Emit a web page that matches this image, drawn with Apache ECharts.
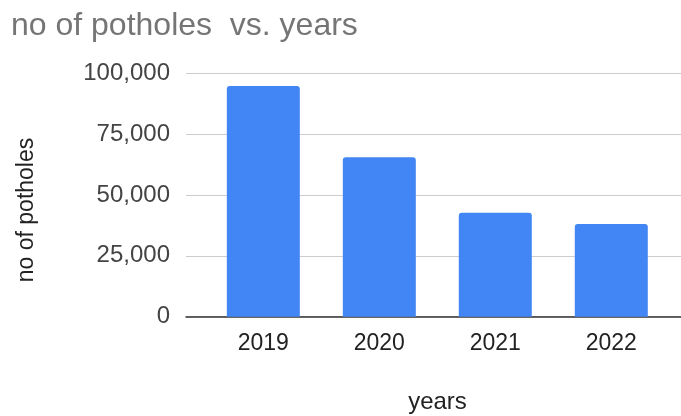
<!DOCTYPE html>
<html>
<head>
<meta charset="utf-8">
<script src="https://cdn.jsdelivr.net/npm/echarts@6/dist/echarts.min.js"></script>
<style>
html,body{margin:0;padding:0;background:#fff;}
#chart{width:681px;height:416px;}
</style>
</head>
<body>
<div id="chart"></div>
<script>
var years = [2019, 2020, 2021, 2022];
var potholes = [94800, 65500, 42700, 38100];
var yTicks = [0, 25000, 50000, 75000, 100000];

var chart = echarts.init(document.getElementById('chart'), null, {renderer: 'canvas'});
var font = '"Liberation Sans", Arial, sans-serif';
var barData = years.map(function (y, i) { return [y, potholes[i]]; });

chart.setOption({
  animation: false,
  backgroundColor: '#ffffff',
  title: {
    text: 'no of potholes  vs. years',
    left: 6,
    top: 5,
    textStyle: {fontFamily: font, fontSize: 32, fontWeight: 'normal', color: '#757575'}
  },
  grid: {left: 186, right: -8, top: 73.3, bottom: 99.3, outerBoundsMode: 'none', containLabel: false},
  xAxis: {
    type: 'value',
    min: 2019 - 2 / 3,
    max: 2022.67,
    name: 'years',
    nameLocation: 'middle',
    nameGap: 74,
    nameTextStyle: {fontFamily: font, fontSize: 24, color: '#222'},
    axisLine: {show: true, lineStyle: {color: '#333', width: 1.5}},
    axisTick: {show: false},
    splitLine: {show: false},
    axisLabel: {
      customValues: years,
      margin: 15,
      fontFamily: font, fontSize: 23, color: '#222',
      formatter: function (v) { return String(v); }
    }
  },
  yAxis: {
    type: 'value',
    min: yTicks[0],
    max: yTicks[yTicks.length - 1],
    interval: 25000,
    name: 'no of potholes',
    nameLocation: 'middle',
    nameGap: 148,
    nameTextStyle: {fontFamily: font, fontSize: 23, color: '#222', padding: [0, 30, 0, 0]},
    axisLine: {show: false},
    axisTick: {show: false},
    splitLine: {lineStyle: {color: '#cccccc', width: 1}},
    axisLabel: {
      margin: 16,
      fontFamily: font, fontSize: 24, color: '#444',
      formatter: function (v) { return v.toLocaleString('en-US'); }
    }
  },
  series: [{
    type: 'bar',
    data: barData,
    barWidth: 73,
    itemStyle: {color: '#4285F4', borderRadius: [3, 3, 0, 0]}
  }]
});
</script>
</body>
</html>
